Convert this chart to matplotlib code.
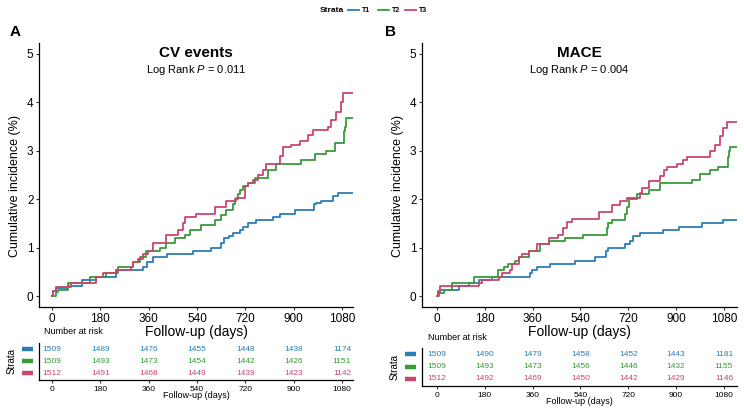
import matplotlib
matplotlib.use("Agg")
import matplotlib.pyplot as plt
from matplotlib.lines import Line2D

plt.rcParams['font.family'] = ['Liberation Sans', 'DejaVu Sans']
plt.rcParams['mathtext.fontset'] = 'custom'
plt.rcParams['mathtext.rm'] = 'Liberation Sans'
plt.rcParams['mathtext.it'] = 'Liberation Sans:italic'

# =========================
# DATA
# =========================
strata = ["T1", "T2", "T3"]
colors = ["#2B7DB8", "#3A9A3A", "#C8466C"]
risk_days = [0, 180, 360, 540, 720, 900, 1080]

# Panel A: CV events (step times in days, cumulative incidence in %)
a_t1_days = [0, 5, 15, 60, 110, 165, 240, 340, 352, 377, 427, 526, 593, 631, 640, 660, 675, 700, 712, 730, 760, 823, 848, 905, 975, 985, 1000, 1046, 1065, 1121]
a_t1_cum = [0, 0.1, 0.17, 0.2, 0.33, 0.4, 0.53, 0.6, 0.7, 0.8, 0.86, 0.93, 1.0, 1.1, 1.2, 1.25, 1.3, 1.37, 1.43, 1.5, 1.57, 1.63, 1.7, 1.77, 1.9, 1.93, 1.97, 2.07, 2.13, 2.13]
a_t2_days = [0, 16, 22, 60, 140, 200, 246, 302, 326, 351, 401, 426, 457, 494, 513, 556, 606, 631, 649, 674, 683, 692, 701, 711, 730, 755, 804, 836, 928, 978, 1022, 1053, 1086, 1090, 1094, 1096, 1121]
a_t2_cum = [0, 0.08, 0.13, 0.27, 0.4, 0.47, 0.6, 0.7, 0.8, 0.93, 1.0, 1.1, 1.2, 1.27, 1.37, 1.47, 1.57, 1.67, 1.77, 1.9, 2.0, 2.1, 2.2, 2.27, 2.33, 2.43, 2.6, 2.73, 2.8, 2.93, 3.0, 3.17, 3.4, 3.5, 3.6, 3.67, 3.67]
a_t3_days = [0, 2, 14, 72, 165, 190, 240, 295, 302, 320, 339, 357, 376, 426, 469, 488, 494, 537, 606, 649, 686, 717, 730, 749, 767, 786, 798, 848, 860, 891, 922, 953, 972, 1028, 1040, 1059, 1077, 1084, 1121]
a_t3_cum = [0, 0.1, 0.19, 0.27, 0.4, 0.47, 0.53, 0.6, 0.7, 0.77, 0.87, 0.93, 1.1, 1.27, 1.37, 1.5, 1.63, 1.7, 1.83, 1.97, 2.03, 2.27, 2.33, 2.4, 2.5, 2.6, 2.73, 2.9, 3.07, 3.13, 3.2, 3.33, 3.43, 3.5, 3.63, 3.8, 4.0, 4.2, 4.2]

# Panel B: MACE
b_t1_days = [0, 4, 13, 81, 119, 157, 207, 351, 357, 376, 426, 520, 595, 637, 643, 708, 727, 736, 764, 852, 909, 996, 1078, 1128]
b_t1_cum = [0, 0.07, 0.13, 0.2, 0.27, 0.33, 0.4, 0.47, 0.53, 0.6, 0.67, 0.73, 0.8, 0.93, 1.0, 1.07, 1.13, 1.23, 1.3, 1.37, 1.43, 1.5, 1.57, 1.57]
b_t2_days = [0, 6, 25, 56, 138, 229, 251, 269, 292, 307, 345, 388, 420, 482, 551, 639, 645, 658, 708, 714, 721, 752, 796, 840, 960, 990, 1028, 1059, 1094, 1099, 1103, 1128]
b_t2_cum = [0, 0.07, 0.13, 0.27, 0.4, 0.53, 0.6, 0.67, 0.73, 0.8, 0.93, 1.07, 1.13, 1.2, 1.27, 1.4, 1.5, 1.57, 1.7, 1.83, 2.0, 2.1, 2.2, 2.33, 2.4, 2.53, 2.6, 2.67, 2.87, 3.0, 3.07, 3.07]
b_t3_days = [0, 4, 13, 157, 169, 232, 244, 276, 282, 307, 320, 345, 376, 420, 457, 476, 489, 508, 608, 658, 689, 714, 764, 773, 796, 840, 856, 865, 902, 927, 940, 1028, 1046, 1065, 1078, 1090, 1128]
b_t3_cum = [0, 0.1, 0.2, 0.27, 0.33, 0.4, 0.47, 0.53, 0.67, 0.8, 0.87, 0.93, 1.07, 1.2, 1.27, 1.4, 1.53, 1.6, 1.73, 1.87, 1.97, 2.03, 2.13, 2.23, 2.37, 2.47, 2.6, 2.67, 2.73, 2.8, 2.87, 3.0, 3.13, 3.3, 3.47, 3.6, 3.6]

# Number at risk
a_risk_t1 = [1509, 1489, 1476, 1455, 1448, 1438, 1174]
a_risk_t2 = [1509, 1493, 1473, 1454, 1442, 1426, 1151]
a_risk_t3 = [1512, 1491, 1468, 1449, 1439, 1423, 1142]
b_risk_t1 = [1509, 1490, 1479, 1458, 1452, 1443, 1181]
b_risk_t2 = [1509, 1493, 1473, 1456, 1446, 1432, 1155]
b_risk_t3 = [1512, 1492, 1469, 1450, 1442, 1429, 1146]

# =========================
# LAYOUT (pixels)
# =========================
W, H = 744, 412
fig = plt.figure(figsize=(W / 100, H / 100), dpi=100)


def add_ax(l, t, r, b):
    return fig.add_axes([l / W, 1 - b / H, (r - l) / W, (b - t) / H])


def style_axes(ax, fs):
    for s in ["top", "right"]:
        ax.spines[s].set_visible(False)
    for s in ["left", "bottom"]:
        ax.spines[s].set_linewidth(0.9)
    ax.tick_params(length=2.5, width=0.8, labelsize=fs, pad=1.5, color="#333333")


def draw_panel(main_box, risk_box, xlim, curves, risks, title, pval, letter, letter_xy, nar_xy):
    ax = add_ax(*main_box)
    for (days, cum), c in zip(curves, colors):
        ax.step(days, cum, where="post", color=c, lw=1.3)
    ax.set_xlim(*xlim)
    ax.set_ylim(-0.227, 5.227)
    ax.set_xticks(risk_days)
    ax.set_yticks([0, 1, 2, 3, 4, 5])
    style_axes(ax, 8.5)
    ax.set_xlabel("Follow-up (days)", fontsize=10, labelpad=0)
    ax.set_ylabel("Cumulative incidence (%)", fontsize=9)
    ax.yaxis.set_label_coords(-0.057, 0.46)
    ax.text(0.5, 0.962, title, transform=ax.transAxes, ha="center", va="center",
            fontsize=11, fontweight="bold")
    ax.text(0.5, 0.898, "Log Rank $\\it{P}$ = " + pval, transform=ax.transAxes,
            ha="center", va="center", fontsize=8)
    fig.text(letter_xy[0] / W, 1 - letter_xy[1] / H, letter, fontsize=11,
             fontweight="bold", ha="center", va="center")

    # risk table
    rx = add_ax(*risk_box)
    rx.set_xlim(*xlim)
    rx.set_ylim(0.42, 3.5)
    for row, (vals, c) in enumerate(zip(risks, colors)):
        yrow = 3 - row
        for d, v in zip(risk_days, vals):
            rx.text(d, yrow, str(v), color=c, fontsize=6, ha="center", va="center")
        rx.plot([-0.055, -0.02], [yrow, yrow], color=c, lw=3.2, solid_capstyle="butt",
                transform=rx.get_yaxis_transform(), clip_on=False)
    rx.set_xticks(risk_days)
    rx.set_yticks([])
    style_axes(rx, 6)
    rx.set_xlabel("Follow-up (days)", fontsize=6.5, labelpad=-1)
    rx.set_ylabel("Strata", fontsize=7, labelpad=0)
    rx.yaxis.set_label_coords(-0.072, 0.5)
    fig.text(nar_xy[0] / W, 1 - nar_xy[1] / H, "Number at risk", fontsize=6.5,
             ha="left", va="center")


draw_panel((39, 43, 353, 307), (39, 343, 353, 380), (-48.4, 1121),
           [(a_t1_days, a_t1_cum), (a_t2_days, a_t2_cum), (a_t3_days, a_t3_cum)],
           [a_risk_t1, a_risk_t2, a_risk_t3],
           "CV events", "0.011", "A", (15, 32), (44, 332))

draw_panel((422, 43, 737, 307), (422, 348, 737, 386), (-56.5, 1129),
           [(b_t1_days, b_t1_cum), (b_t2_days, b_t2_cum), (b_t3_days, b_t3_cum)],
           [b_risk_t1, b_risk_t2, b_risk_t3],
           "MACE", "0.004", "B", (390, 32), (428, 337))

# top legend
fig.text(320 / W, 1 - 10 / H, "Strata", fontsize=6, fontweight="bold", ha="left", va="center")
leg_x = [348, 378, 405]
for x0, name, c in zip(leg_x, strata, colors):
    fig.add_artist(Line2D([x0 / W, (x0 + 11) / W], [1 - 10 / H, 1 - 10 / H], color=c, lw=1.3,
                          transform=fig.transFigure))
    fig.text((x0 + 14) / W, 1 - 10 / H, name, fontsize=5, fontweight="bold", ha="left", va="center")

fig.savefig("out.png", dpi=100)
